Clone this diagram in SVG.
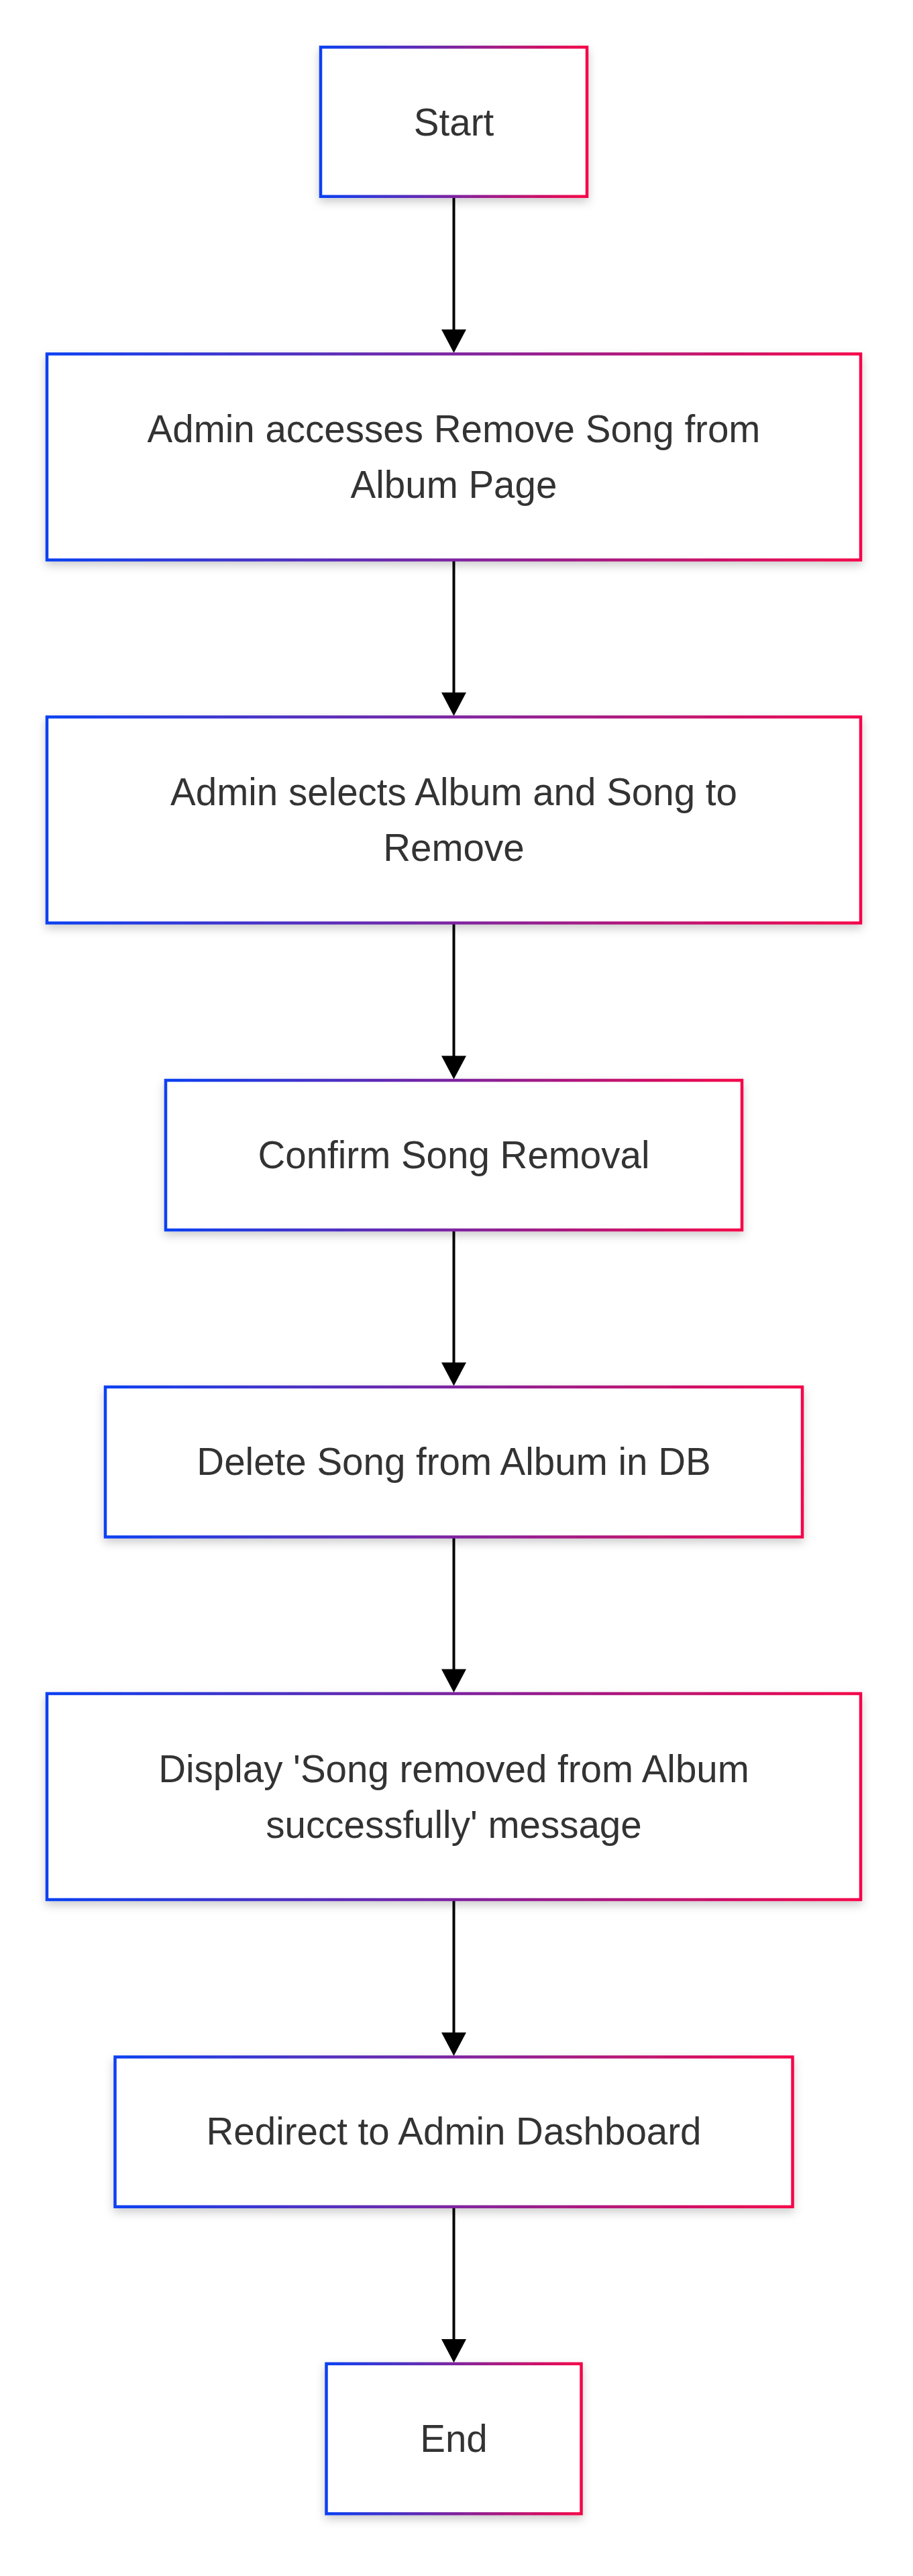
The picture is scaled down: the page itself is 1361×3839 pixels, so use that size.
<svg xmlns="http://www.w3.org/2000/svg" width="1361" height="3839" viewBox="0 0 1361 3839">
  <defs>
    <linearGradient id="edgeGrad" x1="0" y1="0" x2="1" y2="0">
      <stop offset="0" stop-color="#0a40f2"/>
      <stop offset="0.5" stop-color="#7d24a0"/>
      <stop offset="1" stop-color="#f5064a"/>
    </linearGradient>
    <filter id="shadow" x="-10%" y="-20%" width="120%" height="150%">
      <feDropShadow dx="0" dy="6" stdDeviation="7" flood-color="#000" flood-opacity="0.2"/>
    </filter>
    <marker id="arrow" viewBox="0 0 10 10" preserveAspectRatio="none" refX="6.6" refY="5" markerWidth="35" markerHeight="37" markerUnits="userSpaceOnUse" orient="auto">
      <path d="M0,0 L10,5 L0,10 z" fill="#000"/>
    </marker>
  </defs>
  <style>
    .box { fill: #ffffff; stroke: url(#edgeGrad); stroke-width: 4.5; filter: url(#shadow); }
    .lbl { font-family: "Liberation Sans", Arial, Helvetica, sans-serif; font-size: 56.5px; fill: #333333; text-anchor: middle; }
    .edge { fill: none; stroke: #000; stroke-width: 4; marker-end: url(#arrow); }
  </style>
  <rect x="0" y="0" width="1361" height="3839" fill="#ffffff"/>

  <g id="connectors">
    <path class="edge" d="M676.5,292.8 L676.5,514"/>
    <path class="edge" d="M676.5,834.5 L676.5,1055"/>
    <path class="edge" d="M676.5,1375.5 L676.5,1596.5"/>
    <path class="edge" d="M676.5,1833 L676.5,2053.5"/>
    <path class="edge" d="M676.5,2290.5 L676.5,2510.5"/>
    <path class="edge" d="M676.5,2831 L676.5,3052"/>
    <path class="edge" d="M676.5,3288.7 L676.5,3509.2"/>
  </g>

  <g id="start">
    <rect class="box" x="478" y="70.3" width="397" height="222.5"/>
    <text class="lbl" x="676.5" y="202">Start</text>
  </g>

  <g id="access">
    <rect class="box" x="70" y="527.5" width="1213" height="307"/>
    <text class="lbl" x="676.5" y="659">Admin accesses Remove Song from</text>
    <text class="lbl" x="676.5" y="742">Album Page</text>
  </g>

  <g id="select">
    <rect class="box" x="70" y="1068.5" width="1213" height="307"/>
    <text class="lbl" x="676.5" y="1200">Admin selects Album and Song to</text>
    <text class="lbl" x="676.5" y="1283">Remove</text>
  </g>

  <g id="confirm">
    <rect class="box" x="247" y="1610" width="859" height="223"/>
    <text class="lbl" x="676.5" y="1741">Confirm Song Removal</text>
  </g>

  <g id="delete">
    <rect class="box" x="157" y="2067" width="1039" height="223.5"/>
    <text class="lbl" x="676.5" y="2197.5">Delete Song from Album in DB</text>
  </g>

  <g id="display">
    <rect class="box" x="70" y="2524" width="1213" height="307"/>
    <text class="lbl" x="676.5" y="2655.5">Display 'Song removed from Album</text>
    <text class="lbl" x="676.5" y="2738.5">successfully' message</text>
  </g>

  <g id="redirect">
    <rect class="box" x="171.5" y="3065.5" width="1010" height="223.2"/>
    <text class="lbl" x="676.5" y="3196">Redirect to Admin Dashboard</text>
  </g>

  <g id="end">
    <rect class="box" x="486.5" y="3522.7" width="380" height="223.5"/>
    <text class="lbl" x="676.5" y="3653.5">End</text>
  </g>
</svg>
